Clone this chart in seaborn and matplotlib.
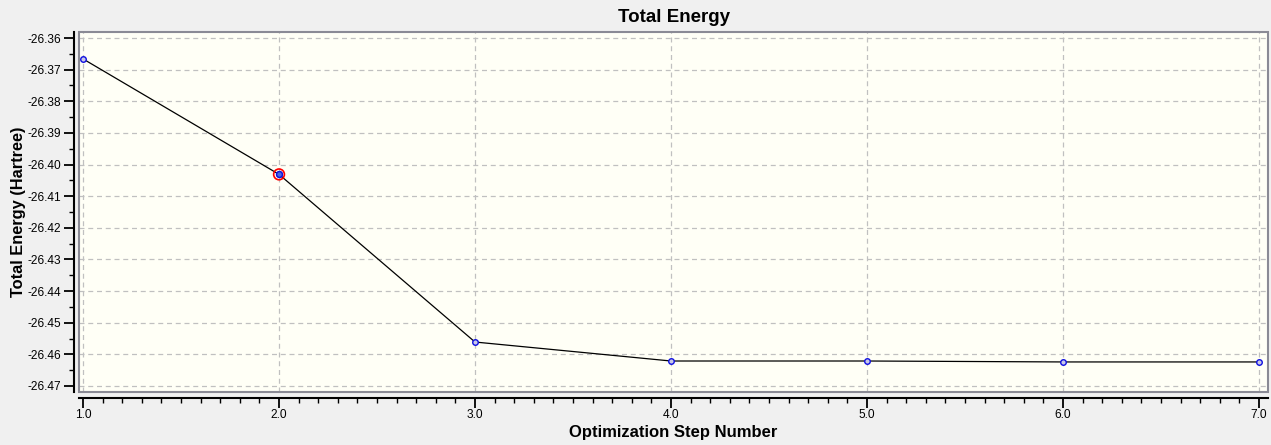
import numpy as np
import pandas as pd
import seaborn as sns
import matplotlib.pyplot as plt
from matplotlib.patches import Rectangle
from matplotlib.ticker import MultipleLocator, FormatStrFormatter

# optimization steps and energies
steps = [1, 2, 3, 4, 5, 6, 7]
energy = [-26.3666, -26.4031, -26.4561, -26.4621, -26.4621, -26.4624, -26.4624]
selected_step = 2

df = pd.DataFrame({"step": steps, "energy": energy})

sns.set_style("white")
plt.rcParams["font.family"] = ["Liberation Sans", "DejaVu Sans"]
plt.rcParams["text.color"] = "black"
plt.rcParams["axes.labelcolor"] = "black"
plt.rcParams["xtick.color"] = "black"
plt.rcParams["ytick.color"] = "black"

fig = plt.figure(figsize=(12.71, 4.45), dpi=100, facecolor="#f0f0f0")
ax = fig.add_axes([0.0622, 0.1191, 0.9354, 0.8089])
ax.set_facecolor("#fffff6")

sns.lineplot(data=df, x="step", y="energy", ax=ax, color="black", linewidth=0.9,
             marker="o", markersize=4, markerfacecolor="#c8c8e8",
             markeredgecolor="#1010e0", markeredgewidth=1.0, zorder=3)

# highlight of the currently selected point
sel = df[df["step"] == selected_step]
ax.scatter(sel["step"], sel["energy"], s=60, facecolor="none", edgecolor="red",
           linewidth=1.2, zorder=4)
ax.scatter(sel["step"], sel["energy"], s=18, facecolor="#4a6ae0", edgecolor="#1010e0",
           linewidth=1.0, zorder=5)

ax.set_xlim(0.9796, 7.046)
ax.set_ylim(-26.4719, -26.3581)

ax.xaxis.set_major_locator(MultipleLocator(1.0))
ax.xaxis.set_minor_locator(MultipleLocator(0.1))
ax.xaxis.set_major_formatter(FormatStrFormatter("%.1f"))
ax.yaxis.set_major_locator(MultipleLocator(0.01))
ax.yaxis.set_minor_locator(MultipleLocator(0.005))
ax.yaxis.set_major_formatter(FormatStrFormatter("%.2f"))

ax.grid(True, which="major", color="#c0c0c0", linestyle=(0, (4, 3)), linewidth=0.9)

# plot frame in gray, axis rulers in black a few pixels outside it
ax.add_patch(Rectangle((0, 0), 1, 1, transform=ax.transAxes, fill=False,
                       edgecolor="#8a8a95", linewidth=1.5, zorder=6, clip_on=False))
ax.spines["top"].set_visible(False)
ax.spines["right"].set_visible(False)
for side in ["left", "bottom"]:
    ax.spines[side].set_position(("outward", 4))
    ax.spines[side].set_color("black")
    ax.spines[side].set_linewidth(1.5)

ax.tick_params(axis="both", which="major", length=7, width=1.3, direction="out",
               labelsize=8.6, bottom=True, left=True)
ax.tick_params(axis="both", which="minor", length=3.5, width=1.0, direction="out",
               bottom=True, left=True)
ax.tick_params(axis="x", which="major", pad=1.5)
ax.tick_params(axis="y", which="major", pad=2)

ax.set_title("Total Energy", fontsize=13.5, fontweight="bold", pad=7)
ax.set_xlabel("Optimization Step Number", fontsize=12, fontweight="bold")
ax.set_ylabel("Total Energy (Hartree)", fontsize=11.8, fontweight="bold")
ax.xaxis.set_label_coords(0.5, -0.092)
ax.yaxis.set_label_coords(-0.045, 0.5)

fig.savefig("out.png", dpi=100, facecolor=fig.get_facecolor())
